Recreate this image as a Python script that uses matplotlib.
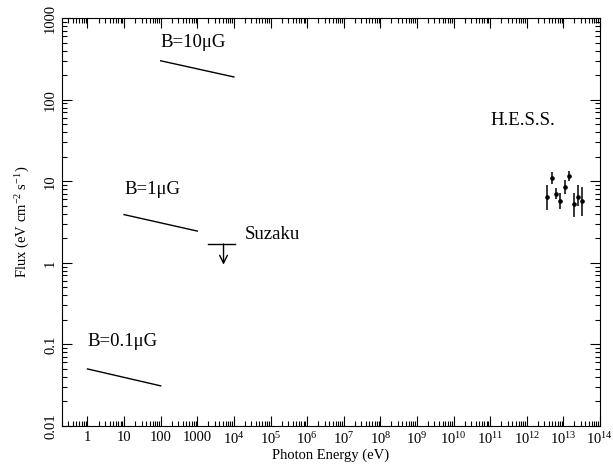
import numpy as np
import matplotlib
matplotlib.use("Agg")
import matplotlib.pyplot as plt
from matplotlib.ticker import LogLocator, FixedLocator, NullFormatter

plt.rcParams['font.family'] = ['Liberation Serif', 'DejaVu Serif']
plt.rcParams['mathtext.fontset'] = 'custom'
plt.rcParams['mathtext.rm'] = 'Liberation Serif'
plt.rcParams['mathtext.it'] = 'Liberation Serif:italic'

# synchrotron model lines (start/end energy in eV, flux)
b10_e = [100, 1.0e4]
b10_f = [300, 190]
b1_e = [10, 1000]
b1_f = [3.9, 2.45]
b01_e = [1, 100]
b01_f = [0.05, 0.031]

# Suzaku upper limit
suz_e = [2000, 1.1e4]
suz_center = 5200
suz_f = 1.7
suz_tip = 0.95

# H.E.S.S. points
hess_e = 10 ** np.array([12.56, 12.68, 12.80, 12.92, 13.04, 13.16, 13.28, 13.40, 13.51])
hess_f = np.array([6.5, 11.0, 7.0, 5.8, 8.5, 11.5, 5.2, 6.5, 5.8])
hess_lo = np.array([4.5, 9.3, 6.0, 4.6, 7.0, 10.2, 3.6, 5.0, 3.8])
hess_hi = np.array([9.0, 13.0, 8.2, 7.2, 10.5, 13.2, 7.2, 9.0, 8.5])

xticks = [10.0 ** k for k in range(0, 15)]
xlabels = ['1', '10', '100', '1000'] + ['10$^{%d}$' % k for k in range(4, 15)]
yticks = [0.01, 0.1, 1, 10, 100, 1000]
ylabels = ['0.01', '0.1', '1', '10', '100', '1000']

fig = plt.figure(figsize=(6.13, 4.65), dpi=100)
ax = fig.add_axes([0.101, 0.084, 0.8777, 0.877])

ax.plot(b10_e, b10_f, color='black', lw=1)
ax.plot(b1_e, b1_f, color='black', lw=1)
ax.plot(b01_e, b01_f, color='black', lw=1)

ax.plot(suz_e, [suz_f, suz_f], color='black', lw=1)
ax.annotate('', xy=(suz_center, suz_tip), xytext=(suz_center, suz_f),
            arrowprops=dict(arrowstyle='->', color='black', lw=1,
                            shrinkA=0, shrinkB=0, mutation_scale=14))

ax.errorbar(hess_e, hess_f, yerr=[hess_f - hess_lo, hess_hi - hess_f],
            fmt='o', ms=2.3, color='black', ecolor='black', elinewidth=1.1,
            capsize=0)

ax.text(100, 400, 'B=10\u03bcG', fontsize=13.5, ha='left', va='bottom')
ax.text(10, 6.3, 'B=1\u03bcG', fontsize=13.5, ha='left', va='bottom')
ax.text(1, 0.086, 'B=0.1\u03bcG', fontsize=13.5, ha='left', va='bottom')
ax.text(2.0e4, 1.75, 'Suzaku', fontsize=13.5, ha='left', va='bottom')
ax.text(1.0e11, 44, 'H.E.S.S.', fontsize=13.5, ha='left', va='bottom')

ax.set_xscale('log')
ax.set_yscale('log')
ax.set_xlim(0.2, 1e14)
ax.set_ylim(0.01, 1000)

ax.xaxis.set_major_locator(FixedLocator(xticks))
ax.set_xticklabels(xlabels)
ax.xaxis.set_minor_locator(LogLocator(base=10, subs=np.arange(2, 10), numticks=30))
ax.xaxis.set_minor_formatter(NullFormatter())
ax.yaxis.set_major_locator(FixedLocator(yticks))
ax.set_yticklabels(ylabels, rotation=90, va='center')
ax.yaxis.set_minor_locator(LogLocator(base=10, subs=np.arange(2, 10), numticks=30))
ax.yaxis.set_minor_formatter(NullFormatter())

ax.tick_params(which='both', direction='in', top=True, right=True, labelsize=10.5)
ax.tick_params(which='major', length=7, width=0.8)
ax.tick_params(which='minor', length=3.5, width=0.8)

ax.set_xlabel('Photon Energy (eV)', fontsize=10.5, labelpad=1)
ax.set_ylabel('Flux (eV cm$^{-2}$ s$^{-1}$)', fontsize=10.5, labelpad=9)

fig.savefig('out.png', dpi=100)
